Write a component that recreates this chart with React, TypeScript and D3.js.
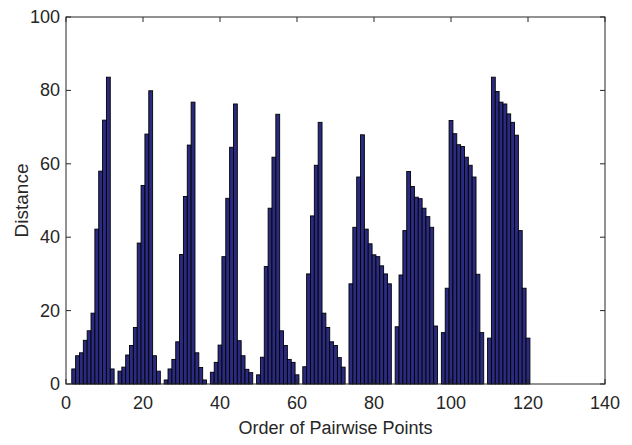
import React from "react";
import * as d3 from "d3";

// Pairwise distances, 10 groups of 12 (first of each group is zero)
const group1 = [0, 4.1, 7.7, 8.5, 11.9, 14.5, 19.3, 42.2, 58, 71.9, 83.6, 4.1];
const group2 = [0, 3.5, 4.6, 7.9, 10.5, 15.4, 38.4, 54.1, 68.1, 79.9, 7.7, 3.5];
const group3 = [0, 1.1, 4.1, 6.7, 11.5, 35.3, 51.1, 65.1, 76.8, 8.5, 4.5, 1.1];
const group4 = [0, 3.2, 5.9, 10.6, 34.7, 50.6, 64.5, 76.3, 11.8, 7.7, 4.0, 3.1];
const group5 = [0, 2.5, 7.3, 32, 47.9, 61.8, 73.5, 14.5, 10.5, 6.7, 5.9, 2.5];
const group6 = [0, 4.7, 30, 45.8, 59.6, 71.3, 19.3, 15.4, 11.5, 10.5, 7.2, 4.6];
const group7 = [0, 27.3, 42.7, 56.4, 67.9, 42.2, 38.2, 35.2, 34.7, 32.2, 30, 27.3];
const group8 = [0, 15.6, 29.7, 41.8, 57.9, 53.8, 50.9, 50.5, 47.9, 45.6, 42.7, 15.8];
const group9 = [0, 14, 26.1, 71.8, 68.2, 65.2, 64.7, 61.8, 59.6, 56.4, 29.9, 14];
const group10 = [0, 12.5, 83.6, 79.7, 76.8, 76.3, 73.6, 71.3, 67.8, 41.8, 26.1, 12.5];

const distances = [
  ...group1, ...group2, ...group3, ...group4, ...group5,
  ...group6, ...group7, ...group8, ...group9, ...group10,
];
const xTicks = [0, 20, 40, 60, 80, 100, 120, 140];
const yTicks = [0, 20, 40, 60, 80, 100];

const W = 632;
const H = 445;
const M = { left: 66, right: 605, top: 17, bottom: 384 };
const FONT = "'Liberation Sans', Arial, Helvetica, sans-serif";
const AXIS = "#262626";

export default function App() {
  const x = d3.scaleLinear().domain([0, 140]).range([M.left, M.right]);
  const y = d3.scaleLinear().domain([0, 100]).range([M.bottom, M.top]);
  const bw = x(1) - x(0);

  return (
    <svg
      width={W}
      height={H}
      style={{ position: "absolute", left: 0, top: 0, background: "#fff" }}
    >
      <rect x={0} y={0} width={W} height={H} fill="#fff" />
      {distances.map((v, i) => {
        const xi = i + 1;
        if (v <= 0) return null;
        return (
          <rect
            key={i}
            x={x(xi) - bw / 2}
            y={y(v)}
            width={bw}
            height={y(0) - y(v)}
            fill="#2a2a80"
            stroke="#000"
            strokeWidth={0.9}
          />
        );
      })}
      {/* frame */}
      <rect
        x={M.left}
        y={M.top}
        width={M.right - M.left}
        height={M.bottom - M.top}
        fill="none"
        stroke={AXIS}
        strokeWidth={1}
      />
      {xTicks.map((t) => (
        <g key={"x" + t}>
          <line x1={x(t)} x2={x(t)} y1={M.bottom} y2={M.bottom - 5} stroke={AXIS} />
          <line x1={x(t)} x2={x(t)} y1={M.top} y2={M.top + 5} stroke={AXIS} />
          <text
            x={x(t)}
            y={403}
            textAnchor="middle"
            dominantBaseline="central"
            fontFamily={FONT}
            fontSize={18}
            fill={AXIS}
          >
            {t}
          </text>
        </g>
      ))}
      {yTicks.map((t) => (
        <g key={"y" + t}>
          <line x1={M.left} x2={M.left + 5} y1={y(t)} y2={y(t)} stroke={AXIS} />
          <line x1={M.right} x2={M.right - 5} y1={y(t)} y2={y(t)} stroke={AXIS} />
          <text
            x={M.left - 6}
            y={y(t)}
            textAnchor="end"
            dominantBaseline="central"
            fontFamily={FONT}
            fontSize={18}
            fill={AXIS}
          >
            {t}
          </text>
        </g>
      ))}
      <text
        x={(M.left + M.right) / 2}
        y={428}
        textAnchor="middle"
        dominantBaseline="central"
        fontFamily={FONT}
        fontSize={18}
        fill={AXIS}
      >
        Order of Pairwise Points
      </text>
      <text
        transform={`translate(21,${(M.top + M.bottom) / 2}) rotate(-90)`}
        textAnchor="middle"
        dominantBaseline="central"
        fontFamily={FONT}
        fontSize={19}
        fill={AXIS}
      >
        Distance
      </text>
    </svg>
  );
}
